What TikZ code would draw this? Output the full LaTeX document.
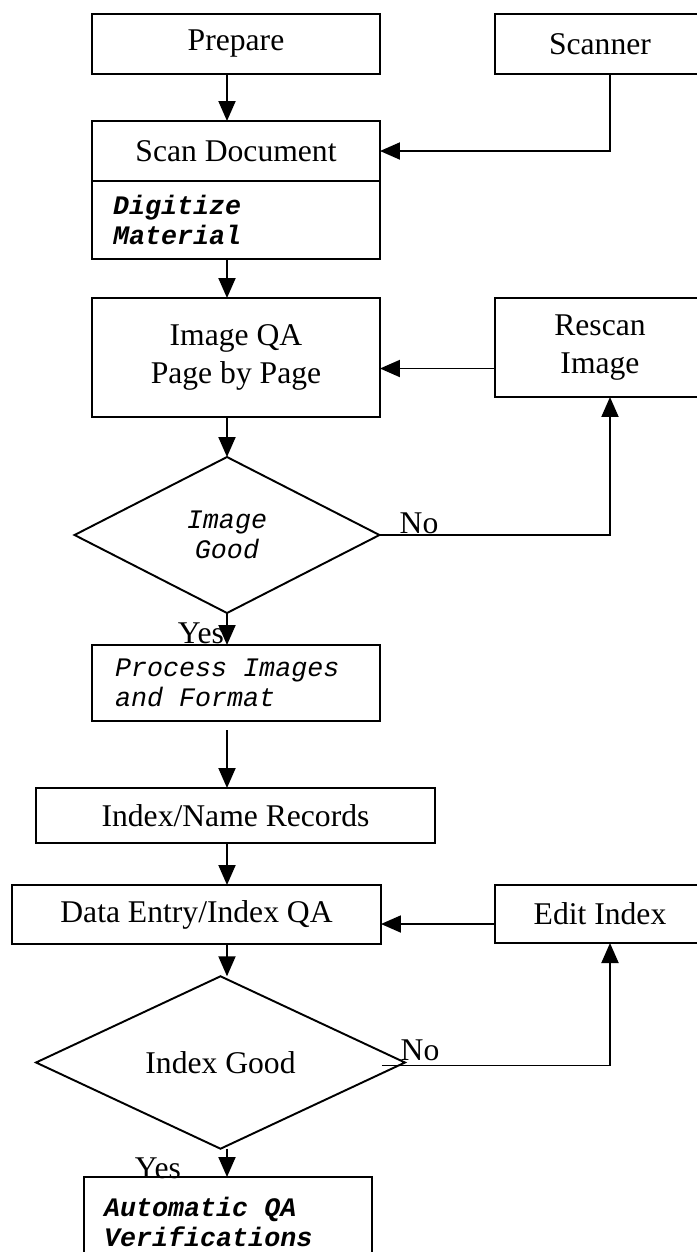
\documentclass[tikz,border=0pt]{standalone}
\usepackage{fontspec}
\setmainfont{Liberation Serif}
\setmonofont{Liberation Mono}
\usetikzlibrary{arrows.meta, shapes.geometric, positioning}

\newcommand{\tsp}{\hspace{0.6em}}

\tikzset{
    box/.style={draw, line width=1.1pt, outer sep=0pt, inner sep=0pt,
        font=\fontsize{18}{21.6}\selectfont, align=center},
    monobox/.style={box, align=left, inner xsep=0.42cm,
        font=\fontsize{15.2}{17.1}\selectfont\ttfamily\itshape},
    decision/.style={draw, diamond, line width=1.1pt, outer sep=0pt, inner sep=0pt},
    arr/.style={line width=1.1pt, -{Triangle[length=0.4cm, width=0.34cm]}},
    lbl/.style={inner sep=0pt, font=\fontsize{18}{21.6}\selectfont}
}

\begin{document}
\begin{tikzpicture}[x=0.02cm, y=-0.02cm]
    \useasboundingbox (0,0) rectangle (697,1252);
    \coordinate (axis) at (227,0);
    % Scanning
    \node[box, minimum width=5.76cm, minimum height=1.2cm] (prepare) at (236,44) {Prepare};
    \node[box, minimum width=4.2cm, minimum height=1.2cm] (scanner) at (600,44) {Scanner};
    \node[box, minimum width=5.76cm, minimum height=1.2cm] (scan) at (236,151) {Scan Document};
    \node[monobox, font=\fontsize{15.2}{17.1}\selectfont\ttfamily\bfseries\itshape,
        text width=4.92cm, minimum height=1.56cm] (digit) at (236,220) {Digitize\\Material};
    % Image QA loop
    \node[box, minimum width=5.76cm, minimum height=2.38cm] (imgqa) at (236,357.5) {Image QA\\Page by Page};
    \node[box, minimum width=4.2cm, minimum height=1.98cm] (rescan) at (600,347.5) {Rescan\\Image};
    \node[decision, minimum width=6.1cm, minimum height=3.12cm, align=center,
        font=\fontsize{15.2}{17.1}\selectfont\ttfamily\itshape] (imggood) at (227,535) {Image\\Good};
    \node[monobox, inner xsep=0.46cm, text width=4.84cm, minimum height=1.52cm] (process) at (236,683) {Process\tsp Images\\and\tsp Format};
    % Indexing
    \node[box, minimum width=7.98cm, minimum height=1.1cm] (index) at (235.5,815.5) {Index/Name Records};
    \node[box, minimum width=7.38cm, minimum height=1.18cm] (data) at (196.5,914.5) {Data Entry/Index QA};
    \node[box, minimum width=4.2cm, minimum height=1.16cm] (edit) at (600,914) {Edit Index};
    \node[decision, minimum width=7.38cm, minimum height=3.1cm,
        font=\fontsize{18}{21.6}\selectfont] (idxgood) at (220.5,1062.5) {Index Good};
    \node[monobox, font=\fontsize{15.2}{17.1}\selectfont\ttfamily\bfseries\itshape,
        inner xsep=0.4cm, text width=4.96cm, minimum height=1.8cm] (auto) at (228,1222) {Automatic\tsp QA\\Verifications};
    % Labels
    \node[lbl] (no1) at (419,523) {No};
    \node[lbl] (yes1) at (201,633) {Yes};
    \node[lbl] (no2) at (420,1050) {No};
    \node[lbl] (yes2) at (158,1168) {Yes};
    % Connectors
    \draw[arr] (prepare.south -| axis) -- (scan.north -| axis);
    \draw[arr] ([xshift=0.2cm]scanner.south) |- (scan.east);
    \draw[arr] (digit.south -| axis) -- (imgqa.north -| axis);
    \draw[arr] ([yshift=-0.42cm]rescan.west) -- ([yshift=-0.42cm]rescan.west -| imgqa.east);
    \draw[arr] (imgqa.south -| axis) -- (imggood.north);
    \draw[arr] (imggood.east) -| ([xshift=0.2cm]rescan.south);
    \draw[arr] (imggood.south) -- (process.north -| axis);
    \draw[arr, shorten <=0.18cm] (process.south -| axis) -- (index.north -| axis);
    \draw[arr] (index.south -| axis) -- (data.north -| axis);
    \draw[arr] ([yshift=-0.2cm]edit.west) -- ([yshift=-0.2cm]edit.west -| data.east);
    \draw[arr] (data.south -| axis) -- (idxgood.north -| axis);
    \draw[arr] ([xshift=-0.46cm, yshift=-0.06cm]idxgood.east) -| ([xshift=0.2cm]edit.south);
    \draw[arr] (idxgood.south -| axis) -- (auto.north -| axis);
\end{tikzpicture}
\end{document}
